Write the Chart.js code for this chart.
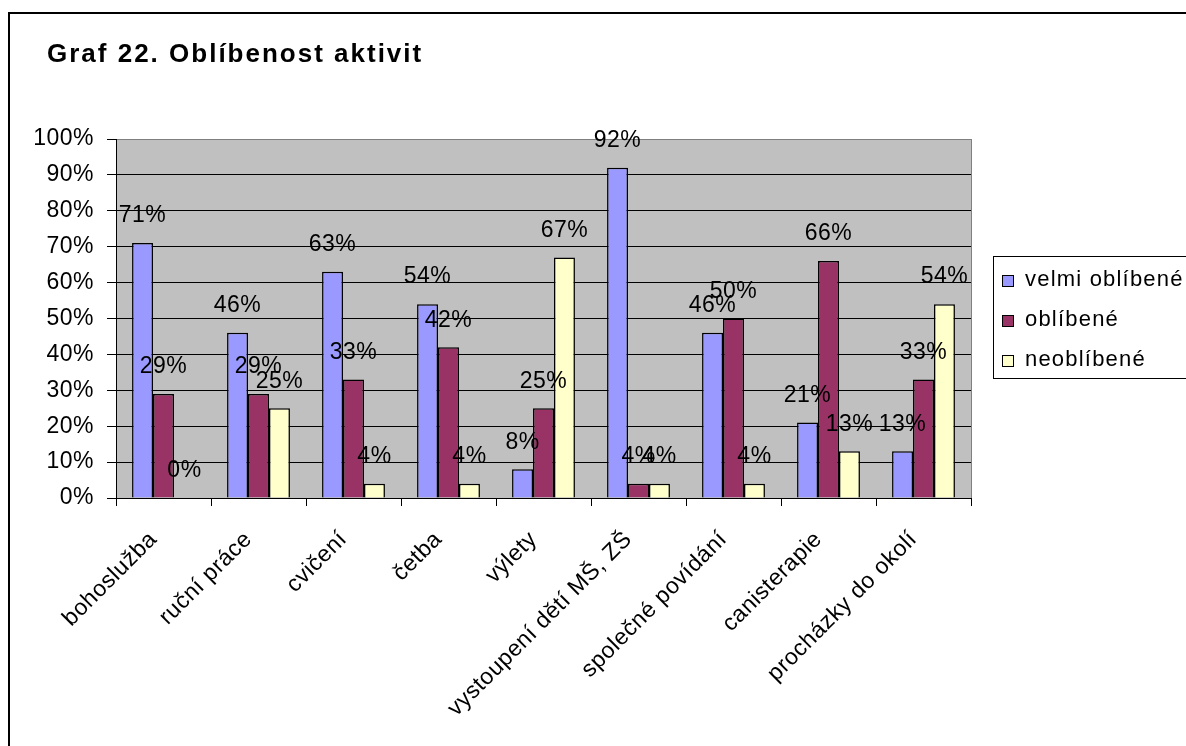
<!DOCTYPE html>
<html>
<head>
<meta charset="utf-8">
<script src="https://cdn.jsdelivr.net/npm/chart.js@4/dist/chart.umd.min.js"></script>
<style>
  html, body { margin: 0; padding: 0; background: #fff; }
  canvas { display: block; }
</style>
</head>
<body>
<canvas id="chart" width="1186" height="746"></canvas>
<script>
// data
const categories = ['bohoslužba', 'ruční práce', 'cvičení', 'četba', 'výlety',
    'vystoupení dětí MŠ, ZŠ', 'společné povídání', 'canisterapie', 'procházky do okolí'];
const seriesNames = ['velmi oblíbené', 'oblíbené', 'neoblíbené'];
const velmiOblibene = [71, 46, 63, 54, 8, 92, 46, 21, 13];
const oblibene = [29, 29, 33, 42, 25, 4, 50, 66, 33];
const neoblibene = [0, 25, 4, 4, 67, 4, 4, 13, 54];
const yTicks = [0, 10, 20, 30, 40, 50, 60, 70, 80, 90, 100];
const title = 'Graf 22. Oblíbenost aktivit';

const FONT = '"Liberation Sans", Arial, sans-serif';
const SIZE = 23;

// plot background, frame, title, value labels, legend
const framePlugin = {
    id: 'frame',
    beforeDraw(chart) {
        const ctx = chart.ctx;
        const a = chart.chartArea;
        ctx.letterSpacing = '0.5px';
        ctx.save();
        ctx.fillStyle = '#C0C0C0';
        ctx.fillRect(a.left, a.top, a.right - a.left, a.bottom - a.top);
        ctx.strokeStyle = '#000';
        ctx.lineWidth = 2;
        ctx.strokeRect(9, 13, 1300, 900);
        ctx.fillStyle = '#000';
        ctx.font = 'bold 26px ' + FONT;
        ctx.letterSpacing = '2px';
        ctx.textAlign = 'left';
        ctx.textBaseline = 'alphabetic';
        ctx.fillText(title, 47, 62);
        ctx.restore();
    },
    beforeDatasetsDraw(chart) {
        const ctx = chart.ctx;
        const a = chart.chartArea;
        ctx.save();
        ctx.strokeStyle = '#808080';
        ctx.lineWidth = 1;
        ctx.beginPath();
        ctx.moveTo(a.right + 0.5, a.top);
        ctx.lineTo(a.right + 0.5, a.bottom);
        ctx.stroke();
        ctx.restore();
    },
    afterDatasetsDraw(chart) {
        const ctx = chart.ctx;
        ctx.save();
        ctx.font = SIZE + 'px ' + FONT;
        ctx.fillStyle = '#000';
        ctx.textAlign = 'center';
        ctx.textBaseline = 'middle';
        chart.data.datasets.forEach((ds, i) => {
            chart.getDatasetMeta(i).data.forEach((bar, j) => {
                ctx.fillText(ds.data[j] + '%', bar.x, bar.y - 27);
            });
        });
        ctx.restore();
    },
    afterDraw(chart) {
        const ctx = chart.ctx;
        ctx.save();
        ctx.strokeStyle = '#000';
        ctx.lineWidth = 1;
        ctx.strokeRect(993.5, 256.5, 300, 122);
        ctx.font = '22px ' + FONT;
        ctx.letterSpacing = '1.2px';
        ctx.textAlign = 'left';
        ctx.textBaseline = 'middle';
        chart.data.datasets.forEach((ds, i) => {
            const y = 280 + i * 40;
            ctx.fillStyle = ds.backgroundColor;
            ctx.fillRect(1002.5, y - 4.5, 11, 11);
            ctx.strokeRect(1002.5, y - 4.5, 11, 11);
            ctx.fillStyle = '#000';
            ctx.fillText(ds.label, 1025, y);
        });
        ctx.restore();
    }
};

const ctx = document.getElementById('chart').getContext('2d');
new Chart(ctx, {
    type: 'bar',
    data: {
        labels: categories,
        datasets: [
            { label: seriesNames[0], data: velmiOblibene, backgroundColor: '#9999FF' },
            { label: seriesNames[1], data: oblibene, backgroundColor: '#993366' },
            { label: seriesNames[2], data: neoblibene, backgroundColor: '#FFFFCC' }
        ]
    },
    options: {
        responsive: false,
        animation: false,
        layout: { padding: { left: 0, top: 139, right: 215, bottom: 0 } },
        datasets: {
            bar: {
                borderColor: '#000',
                borderWidth: 1.5,
                categoryPercentage: 0.662,
                barPercentage: 1
            }
        },
        plugins: {
            legend: { display: false },
            tooltip: { enabled: false }
        },
        scales: {
            x: {
                afterFit(scale) { scale.height = 248; },
                grid: { drawOnChartArea: false, color: '#000', tickLength: 8, offset: true },
                border: { color: '#000', width: 1 },
                ticks: {
                    color: '#000',
                    font: { family: FONT, size: SIZE },
                    minRotation: 45,
                    maxRotation: 45,
                    autoSkip: false,
                    padding: 20,
                    labelOffset: -10
                }
            },
            y: {
                min: 0,
                max: 100,
                afterFit(scale) { scale.width = 116; },
                afterBuildTicks(scale) { scale.ticks = yTicks.map(v => ({ value: v })); },
                grid: {
                    color: c => (c.tick && c.tick.value === 100) ? '#808080' : '#000',
                    tickColor: '#000',
                    tickLength: 9,
                    lineWidth: 1
                },
                border: { color: '#000', width: 1 },
                ticks: {
                    color: '#000',
                    font: { family: FONT, size: SIZE },
                    padding: 13,
                    callback: v => v + '%'
                }
            }
        }
    },
    plugins: [framePlugin]
});
</script>
</body>
</html>
